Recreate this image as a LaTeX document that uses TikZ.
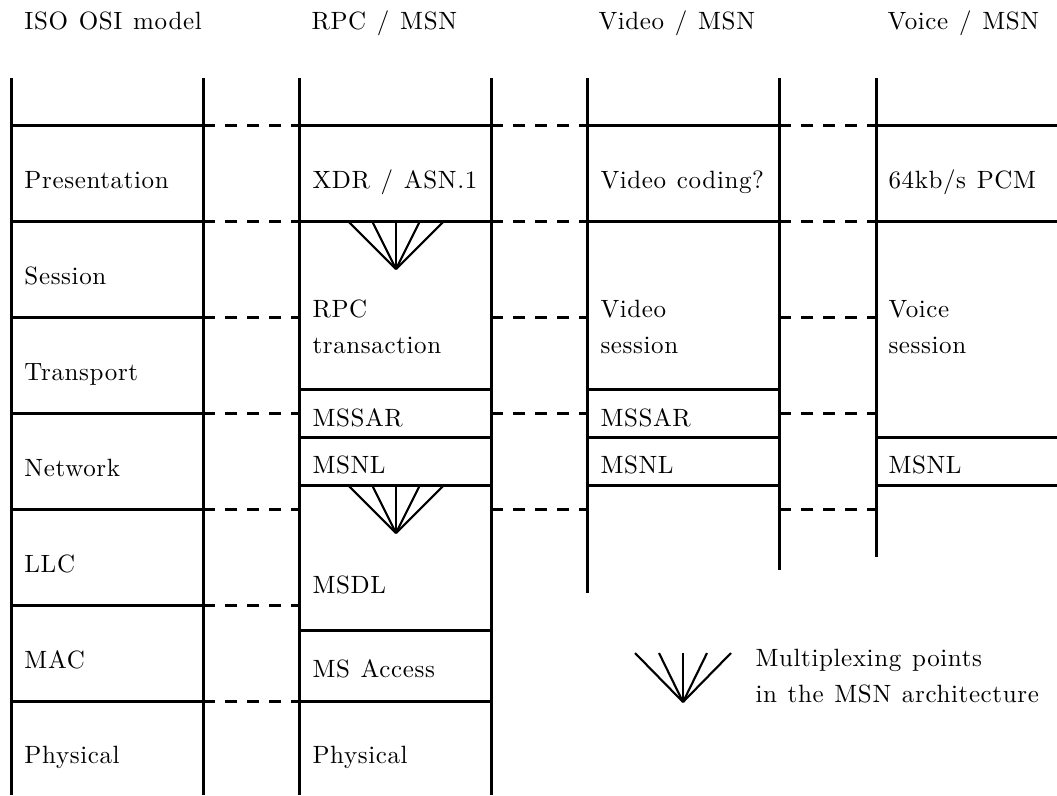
\documentclass[tikz,border=0pt]{standalone}
\usepackage{fontspec}
\newfontfamily\lmwide{lmroman10-regular.otf}[LetterSpace=2.5,WordSpace=1.2]
\begin{document}
\begin{tikzpicture}[x=0.4pt,y=-0.4pt,
  solidline/.style={line width=1.2pt},
  dashline/.style={line width=1.2pt, dash pattern=on 4.8pt off 4pt},
  fanline/.style={line width=0.85pt},
  lbl/.style={anchor=base west, inner sep=0pt,
    font=\lmwide\fontsize{10}{12}\selectfont}]
\useasboundingbox (0,0) rectangle (1057,795);
% vertical stack borders
\draw[solidline] (11,78)--(11,795) (203,78)--(203,795)
  (299,78)--(299,795) (491,78)--(491,795)
  (587,78)--(587,593) (779,78)--(779,570)
  (876,78)--(876,557);
% ISO layers and peer dashes to RPC
\foreach \y in {125,221,317,413,509,605,701} {
  \draw[solidline] (11,\y)--(203,\y);
  \draw[dashline] (203,\y)--(299,\y);
}
% RPC layers
\foreach \y in {125,221,389,437,485,630,701}
  \draw[solidline] (299,\y)--(491,\y);
% dashes RPC-Video and Video-Voice
\foreach \y in {125,221,317,413,509} {
  \draw[dashline] (491,\y)--(587,\y);
  \draw[dashline] (779,\y)--(876,\y);
}
% Video layers
\foreach \y in {125,221,389,437,485}
  \draw[solidline] (587,\y)--(779,\y);
% Voice layers
\foreach \y in {125,221,437,485}
  \draw[solidline] (876,\y)--(1057,\y);
% multiplexing fans
\foreach \ax/\ay/\ty in {396/269/221, 396/533/485, 683/702/653} {
  \foreach \dx in {-48,-24,0,24,48}
    \draw[fanline] (\ax+\dx,\ty)--(\ax,\ay);
}
% titles
\node[lbl] (t1) at (24,29) {ISO OSI model};
\node[lbl] (t2) at (311,29) {RPC / MSN};
\node[lbl] (t3) at (598,29) {Video / MSN};
\node[lbl] (t4) at (887,29) {Voice / MSN};
% ISO labels
\node[lbl] (iso1) at (24,188) {Presentation};
\node[lbl] (iso2) at (24,284) {Session};
\node[lbl] (iso3) at (24,380) {Transport};
\node[lbl] (iso4) at (24,476) {Network};
\node[lbl] (iso5) at (24,572) {LLC};
\node[lbl] (iso6) at (24,668) {MAC};
\node[lbl] (iso7) at (24,763) {Physical};
% RPC labels
\node[lbl] (r1) at (312,188) {XDR / ASN.1};
\node[lbl] (r2a) at (312,317) {RPC};
\node[lbl] (r2b) at (312,353) {transaction};
\node[lbl] (r3) at (312,426) {MSSAR};
\node[lbl] (r4) at (312,473) {MSNL};
\node[lbl] (r5) at (312,593) {MSDL};
\node[lbl] (r6) at (312,677) {MS Access};
\node[lbl] (r7) at (312,763) {Physical};
% Video labels
\node[lbl] (v1) at (600,188) {Video coding?};
\node[lbl] (v2a) at (600,317) {Video};
\node[lbl] (v2b) at (600,353) {session};
\node[lbl] (v3) at (600,426) {MSSAR};
\node[lbl] (v4) at (600,473) {MSNL};
% Voice labels
\node[lbl] (c1) at (888,188) {64kb/s PCM};
\node[lbl] (c2a) at (888,317) {Voice};
\node[lbl] (c2b) at (888,353) {session};
\node[lbl] (c4) at (888,473) {MSNL};
% legend
\node[lbl] (lg1) at (755,666) {Multiplexing points};
\node[lbl] (lg2) at (755,702) {in the MSN architecture};
\end{tikzpicture}
\end{document}
